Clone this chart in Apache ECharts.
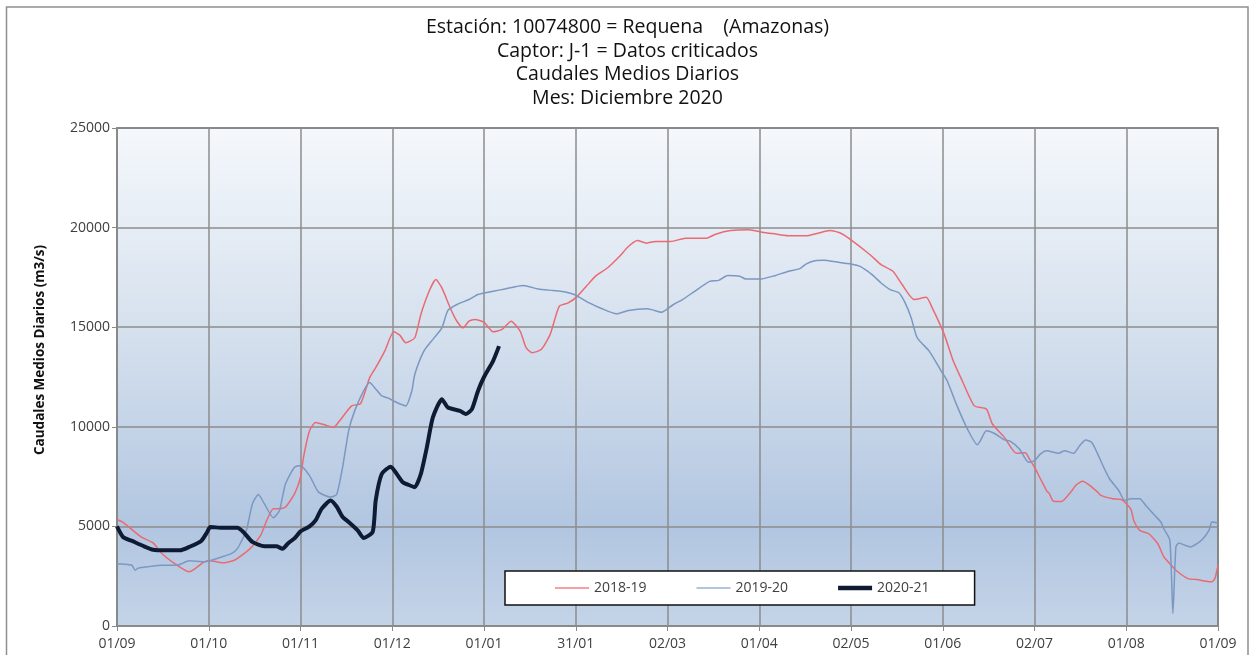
<!DOCTYPE html>
<html>
<head>
<meta charset="utf-8">
<script src="https://cdn.jsdelivr.net/npm/echarts@6/dist/echarts.min.js"></script>
<style>
  html, body { margin: 0; padding: 0; background: #fff; }
  #main { width: 1255px; height: 655px; }
</style>
</head>
<body>
<div id="main"></div>
<script>
/* Caudales medios diarios - Requena (Amazonas) */
// dias desde 01/09 (0..366)
const tickLabels = ['01/09', '01/10', '01/11', '01/12', '01/01', '31/01', '02/03', '01/04', '02/05', '01/06', '02/07', '01/08', '01/09']
const seriesNames = ['2018-19', '2019-20', '2020-21']

const q2018 = [[0,5330],[2,5200],[8,4470],[12,4170],[15,3630],[20,3050],[24,2720],[26,2880],[29,3220],[31,3270],[35,3170],[39,3300],[43,3720],[45,4000],[48,4630],[50,5380],[52,5880],[54,5880],[56,5970],[59,6630],[61,7470],[62,8470],[64,9800],[66,10220],[69,10100],[72,9970],[74,10300],[78,11050],[81,11170],[84,12470],[86,12970],[89,13800],[92,14770],[94,14600],[96,14220],[99,14470],[101,15640],[104,16890],[106,17390],[108,16970],[111,15890],[113,15300],[115,14970],[117,15300],[119,15390],[122,15250],[125,14770],[128,14890],[131,15300],[134,14800],[136,13970],[138,13720],[141,13880],[144,14640],[147,16050],[150,16220],[153,16550],[156,17050],[159,17550],[163,17970],[167,18550],[170,19050],[173,19350],[176,19220],[179,19300],[184,19300],[189,19470],[196,19470],[199,19670],[204,19850],[210,19890],[215,19750],[218,19700],[223,19590],[229,19590],[233,19720],[237,19850],[240,19750],[242,19600],[245,19270],[249,18800],[251,18550],[254,18140],[258,17800],[261,17140],[265,16390],[269,16500],[271,15970],[275,14640],[278,13300],[281,12300],[285,11050],[289,10890],[291,10140],[295,9470],[299,8670],[302,8700],[303,8470],[305,7970],[307,7380],[309,6800],[310,6630],[311,6300],[312,6250],[314,6250],[317,6720],[319,7100],[321,7270],[323,7100],[326,6720],[327,6560],[331,6390],[334,6340],[337,5880],[338,5300],[340,4800],[343,4630],[346,4130],[348,3470],[350,3130],[352,2800],[356,2380],[359,2330],[362,2250],[364,2220],[365,2400],[366,3050]]

const q2019 = [[0,3130],[4,3080],[5,3050],[6,2800],[7,2900],[10,2970],[15,3050],[20,3050],[24,3270],[29,3220],[33,3380],[38,3630],[40,3880],[43,4800],[45,6130],[47,6600],[49,6130],[52,5430],[54,5800],[56,7130],[59,7970],[61,8050],[64,7550],[67,6720],[71,6470],[73,6600],[75,7970],[77,9800],[79,10800],[82,11800],[84,12220],[86,11900],[88,11550],[90,11450],[93,11220],[96,11050],[98,11800],[99,12640],[102,13800],[105,14390],[108,14970],[110,15840],[113,16140],[117,16390],[120,16640],[125,16800],[129,16920],[135,17090],[140,16920],[145,16840],[149,16770],[152,16640],[157,16220],[161,15940],[166,15670],[170,15840],[176,15920],[178,15870],[181,15750],[185,16140],[188,16390],[192,16800],[197,17300],[200,17350],[203,17590],[207,17560],[209,17420],[214,17420],[219,17600],[223,17800],[227,17940],[229,18170],[232,18340],[235,18360],[239,18280],[244,18170],[247,18050],[251,17640],[254,17220],[257,16890],[260,16720],[262,16220],[264,15470],[266,14470],[270,13800],[274,12800],[276,12300],[279,11140],[283,9800],[286,9100],[287,9300],[289,9800],[292,9640],[295,9340],[297,9270],[300,8890],[303,8220],[305,8300],[307,8640],[309,8800],[313,8670],[315,8800],[318,8670],[320,9050],[322,9340],[324,9220],[326,8640],[328,7970],[330,7380],[333,6800],[335,6300],[337,6390],[340,6390],[342,6050],[345,5550],[347,5220],[348,4880],[350,4300],[351,630],[352,3970],[353,4170],[355,4050],[357,3970],[359,4130],[361,4380],[363,4800],[364,5220],[366,5170]]

const q2020 = [[0,5000],[2,4470],[5,4270],[9,4000],[12,3830],[16,3800],[21,3800],[24,3970],[28,4270],[30,4720],[31,4970],[35,4930],[40,4930],[42,4720],[45,4220],[49,4000],[53,4000],[55,3880],[57,4170],[59,4400],[61,4750],[64,5000],[66,5300],[68,5880],[71,6300],[73,6000],[75,5470],[77,5220],[80,4800],[82,4420],[85,4720],[86,6300],[88,7630],[91,8000],[93,7630],[95,7220],[97,7080],[99,6970],[101,7630],[103,8970],[105,10470],[108,11380],[110,10970],[114,10800],[116,10640],[118,10890],[120,11800],[122,12500],[125,13300],[127,14050]]

const font = '"Open Sans", "Noto Sans", sans-serif'
var myChart = echarts.init(document.getElementById('main'))

const option = {
  animation: false,
  backgroundColor: '#fff',
  textStyle: { fontFamily: font },
  title: {
    text: 'Estación: 10074800 = Requena    (Amazonas)\nCaptor: J-1 = Datos criticados\nCaudales Medios Diarios\nMes: Diciembre 2020',
    left: 'center',
    top: 16,
    padding: 0,
    textStyle: { fontFamily: font, fontSize: 19.5, fontWeight: 'normal', color: '#111', lineHeight: 23.5 }
  },
  legend: {
    left: 505,
    top: 571,
    orient: 'horizontal',
    padding: [10, 45, 10, 50],
    itemGap: 50,
    itemWidth: 34,
    itemHeight: 10,
    backgroundColor: '#fff',
    borderColor: '#111',
    borderWidth: 1.5,
    borderRadius: 0,
    textStyle: { fontFamily: font, fontSize: 14, color: '#404040' },
    // icono de linea simple, sin simbolo
    data: [
      { name: seriesNames[0], icon: 'path://M0,0h34v2h-34z', itemStyle: { color: '#f4a0a6' } },
      { name: seriesNames[1], icon: 'path://M0,0h34v2h-34z', itemStyle: { color: '#b3c5de' } },
      { name: seriesNames[2], icon: 'path://M0,0h34v4.5h-34z', itemStyle: { color: '#0e1b33' } }
    ]
  },
  grid: {
    left: 117,
    right: 37,
    top: 128,
    bottom: 29,
    show: true,
    borderColor: '#555',
    borderWidth: 1.5,
    backgroundColor: {
      type: 'linear', x: 0, y: 0, x2: 0, y2: 1,
      colorStops: [
        { offset: 0, color: '#f5f8fc' },
        { offset: 0.4, color: '#d6e1ee' },
        { offset: 0.8, color: '#b2c6e1' },
        { offset: 1, color: '#c4d4e8' }
      ]
    }
  },
  xAxis: {
    type: 'value',
    min: 0,
    max: 366,
    interval: 30.5,
    axisLine: { show: true, lineStyle: { color: '#8a8a8a', width: 1.5 } },
    axisTick: { show: true, length: 5, lineStyle: { color: '#8a8a8a' } },
    axisLabel: {
      margin: 11,
      fontSize: 14,
      color: '#404040',
      formatter: (v) => tickLabels[Math.round(v / 30.5)]
    },
    splitLine: { show: true, lineStyle: { color: '#8c8c8c', width: 1.5 } }
  },
  yAxis: {
    type: 'value',
    min: 0,
    max: 25000,
    interval: 5000,
    axisLine: { show: true, lineStyle: { color: '#8a8a8a', width: 1.5 } },
    axisTick: { show: true, length: 5, lineStyle: { color: '#8a8a8a' } },
    axisLabel: { margin: 7, fontSize: 14, color: '#404040', formatter: (v) => String(v) },
    splitLine: { show: true, lineStyle: { color: '#8c8c8c', width: 1.5 } }
  },
  graphic: [
    {
      type: 'rect',
      silent: true,
      z: -10,
      shape: { x: 6.5, y: 7, width: 1241.5, height: 660 },
      style: { fill: 'none', stroke: '#8f8f8f', lineWidth: 1.5 }
    },
    {
      // titulo del eje Y
      type: 'text',
      x: 40,
      y: 350,
      rotation: Math.PI / 2,
      style: {
        text: 'Caudales Medios Diarios (m3/s)',
        font: 'bold 13.5px "Open Sans", sans-serif',
        fill: '#111',
        textAlign: 'center',
        textVerticalAlign: 'middle'
      }
    }
  ],
  series: [
    {
      name: seriesNames[0],
      type: 'line',
      symbol: 'none',
      smooth: 0.2,
      data: q2018,
      lineStyle: { color: '#ea6a72', width: 1.5 },
      itemStyle: { color: '#f4a0a6' }
    },
    {
      name: seriesNames[1],
      type: 'line',
      symbol: 'none',
      smooth: 0.2,
      data: q2019,
      lineStyle: { color: '#7b97c2', width: 1.5 },
      itemStyle: { color: '#b3c5de' }
    },
    {
      name: seriesNames[2],
      type: 'line',
      symbol: 'none',
      smooth: 0.2,
      data: q2020,
      lineStyle: { color: '#0e1b33', width: 4 },
      itemStyle: { color: '#0e1b33' }
    }
  ]
}
myChart.setOption(option)
</script>
</body>
</html>
